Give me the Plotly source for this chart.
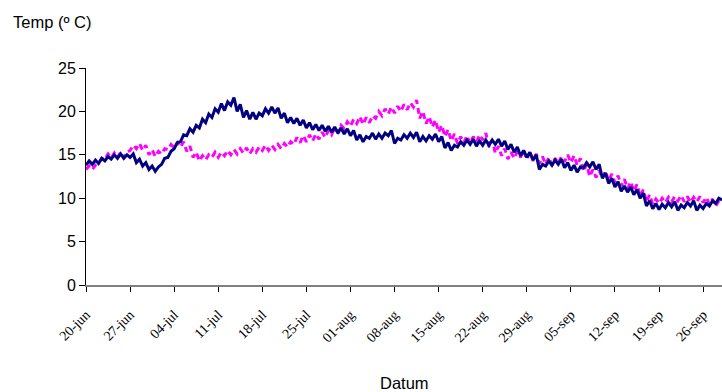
import pandas as pd
import plotly.graph_objects as go

# Twice-daily water temperature readings (00:00 and 12:00), 20 Jun - 29 Sep
start = "2006-06-20 00:00"

temp_navy = [
    13.8, 14.3, 13.9, 14.4, 14.0, 14.6, 14.3, 14.8, 14.5, 15.0, 14.6, 15.1, 14.6, 15.0,
    14.7, 15.1, 14.1, 14.5, 13.7, 14.1, 13.3, 13.7, 13.1, 13.6, 13.9, 14.6, 14.7, 15.4,
    15.7, 16.4, 16.5, 17.3, 17.2, 18.0, 17.6, 18.4, 18.1, 19.1, 18.7, 19.7, 19.3, 20.3,
    19.9, 20.9, 20.1, 21.1, 20.7, 21.6, 20.0, 20.8, 19.3, 20.1, 19.1, 19.9, 19.1, 19.8,
    19.5, 20.3, 19.8, 20.5, 19.8, 20.4, 19.2, 19.8, 18.7, 19.3, 18.6, 19.2, 18.4, 19.0,
    18.1, 18.7, 17.9, 18.5, 17.8, 18.4, 17.7, 18.3, 17.6, 18.2, 17.5, 18.1, 17.4, 18.0,
    17.2, 17.8, 16.7, 17.3, 16.5, 17.1, 16.9, 17.5, 16.8, 17.4, 16.9, 17.5, 17.2, 17.8,
    16.3, 16.9, 16.7, 17.3, 16.9, 17.5, 17.0, 17.6, 16.5, 17.1, 16.6, 17.2, 16.8, 17.4,
    16.5, 17.1, 15.8, 16.4, 15.5, 16.1, 15.9, 16.5, 16.1, 16.7, 16.2, 16.8, 16.0, 16.6,
    16.1, 16.7, 16.1, 16.7, 16.2, 16.8, 16.0, 16.6, 15.6, 16.2, 15.3, 15.9, 14.9, 15.5,
    14.7, 15.3, 14.4, 15.0, 13.3, 13.9, 13.7, 14.3, 13.8, 14.4, 13.9, 14.5, 13.5, 14.1,
    13.2, 13.8, 13.0, 13.6, 13.5, 14.1, 13.6, 14.2, 13.3, 13.9, 12.3, 12.9, 11.7, 12.3,
    11.3, 11.9, 10.8, 11.4, 10.7, 11.3, 10.4, 11.0, 10.0, 10.6, 9.1, 9.7, 8.8, 9.4,
    8.7, 9.3, 8.9, 9.5, 9.0, 9.6, 8.6, 9.2, 8.9, 9.5, 9.1, 9.7, 8.6, 9.2,
    8.8, 9.4, 9.1, 9.7, 9.4, 10.0, 9.8,
]

temp_magenta = [
    13.3, 13.7, 13.3, 13.8, 14.0, 14.6, 14.5, 15.1, 14.6, 15.2, 14.7, 15.3, 14.7, 15.3,
    15.5, 16.1, 15.7, 16.3, 15.5, 16.1, 15.0, 15.6, 14.8, 15.4, 15.1, 15.7, 15.6, 16.2,
    15.8, 16.4, 15.9, 16.5, 15.4, 16.0, 14.7, 15.3, 14.3, 14.9, 14.4, 15.0, 14.7, 15.3,
    14.7, 15.3, 14.9, 15.5, 15.0, 15.6, 15.1, 15.7, 15.2, 15.8, 15.1, 15.7, 15.3, 15.9,
    15.5, 16.1, 15.5, 16.1, 15.6, 16.2, 15.7, 16.3, 15.9, 16.5, 16.2, 17.0, 16.4, 17.2,
    16.5, 17.3, 16.6, 17.4, 16.8, 17.6, 17.0, 17.8, 17.3, 18.1, 17.6, 18.4, 18.0, 18.8,
    18.3, 19.1, 18.6, 19.4, 18.5, 19.3, 18.7, 19.5, 19.2, 20.0, 19.5, 20.3, 19.7, 20.5,
    19.8, 20.6, 20.0, 20.8, 20.2, 21.0, 20.5, 21.3, 19.2, 20.0, 18.6, 19.4, 18.2, 19.0,
    17.6, 18.4, 17.1, 17.9, 16.6, 17.4, 16.3, 17.1, 16.4, 17.2, 16.3, 17.1, 16.5, 17.3,
    16.7, 17.5, 15.9, 16.7, 15.2, 16.0, 14.9, 15.7, 14.5, 15.3, 14.6, 15.4, 14.7, 15.5,
    14.5, 15.3, 14.3, 15.1, 14.0, 14.8, 13.9, 14.7, 13.8, 14.6, 14.0, 14.8, 14.2, 15.0,
    14.1, 14.9, 13.8, 14.6, 13.1, 13.9, 12.5, 13.3, 12.4, 13.2, 12.3, 13.1, 12.0, 12.8,
    11.8, 12.6, 11.4, 12.2, 11.1, 11.9, 10.8, 11.6, 10.2, 11.0, 9.6, 10.4, 9.3, 9.9,
    9.4, 10.0, 9.5, 10.1, 9.6, 10.2, 9.7, 10.3, 9.6, 10.2, 9.5, 10.1, 9.6, 10.2,
    9.5, 10.1, 9.3, 9.9, 9.1, 9.7, 9.4,
]

tick_dates = ["2006-06-20", "2006-06-27", "2006-07-04", "2006-07-11", "2006-07-18",
              "2006-07-25", "2006-08-01", "2006-08-08", "2006-08-15", "2006-08-22",
              "2006-08-29", "2006-09-05", "2006-09-12", "2006-09-19", "2006-09-26"]
tick_labels = ["20-jun", "27-jun", "04-jul", "11-jul", "18-jul", "25-jul", "01-aug",
               "08-aug", "15-aug", "22-aug", "29-aug", "05-sep", "12-sep", "19-sep",
               "26-sep"]

times_navy = pd.date_range(start, periods=len(temp_navy), freq="12h")
times_magenta = pd.date_range(start, periods=len(temp_magenta), freq="12h")

fig = go.Figure()
fig.add_trace(go.Scatter(
    x=times_magenta, y=temp_magenta, mode="lines",
    line=dict(color="#FF00FF", width=3, dash="6px,4px"),
    showlegend=False,
))
fig.add_trace(go.Scatter(
    x=times_navy, y=temp_navy, mode="lines",
    line=dict(color="#000080", width=3),
    showlegend=False,
))

fig.update_layout(
    width=722, height=392,
    margin=dict(l=86, r=0, t=68, b=107),
    paper_bgcolor="white", plot_bgcolor="white",
    font=dict(family="Liberation Sans, Arial", size=16, color="black"),
    xaxis=dict(
        range=["2006-06-20", "2006-09-29"],
        tickmode="array", tickvals=tick_dates, ticktext=tick_labels,
        tickangle=-45, ticklabelstandoff=9,
        tickfont=dict(family="Liberation Serif, Times New Roman", size=14, color="black"),
        showgrid=False, zeroline=False,
        showline=True, linecolor="#808080", linewidth=2,
        ticks="outside", ticklen=5, tickcolor="black", tickwidth=1,
    ),
    yaxis=dict(
        range=[0, 25], tickmode="linear", tick0=0, dtick=5,
        tickfont=dict(family="Liberation Sans, Arial", size=16, color="black"),
        showgrid=False, zeroline=False,
        showline=True, linecolor="black", linewidth=1,
        ticks="outside", ticklen=6, tickcolor="black", tickwidth=1,
    ),
    annotations=[
        dict(text="Temp (º C)", xref="paper", yref="paper", x=-0.118, y=1.212,
             xanchor="left", yanchor="middle", showarrow=False,
             font=dict(family="Liberation Sans, Arial", size=16.5, color="black")),
        dict(text="Datum", xref="paper", yref="paper", x=0.5, y=-0.45,
             xanchor="center", yanchor="middle", showarrow=False,
             font=dict(family="Liberation Sans, Arial", size=16.5, color="black")),
    ],
)

fig.write_html("out.html")
